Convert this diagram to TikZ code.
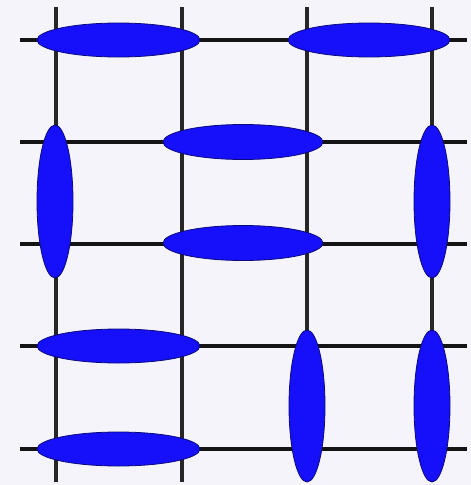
\documentclass[tikz,border=0pt]{standalone}
\definecolor{bgcol}{RGB}{246,244,251}
\definecolor{blobfill}{RGB}{22,16,250}
\definecolor{blobedge}{RGB}{10,10,120}
\begin{document}
\begin{tikzpicture}[x=1pt,y=-1pt,
  hline/.style={line width=3.8pt,color=black!92},
  vline/.style={line width=3.4pt,color=black!85},
  blob/.style={fill=blobfill,draw=blobedge,line width=0.8pt}]
\fill[bgcol] (0,0) rectangle (471,485);
\useasboundingbox (0,0) rectangle (471,485);
% vertical lines
\foreach \x in {56,182,307,432} \draw[vline] (\x,7) -- (\x,482);
% horizontal lines
\foreach \y in {40,142,244,346,449} \draw[hline] (20,\y) -- (467,\y);
% horizontal blobs
\path[blob] (118.5,40) ellipse [x radius=81.5, y radius=17];
\path[blob] (369,40) ellipse [x radius=81, y radius=17];
\path[blob] (243,142) ellipse [x radius=80, y radius=17.5];
\path[blob] (243,243) ellipse [x radius=80, y radius=17.5];
\path[blob] (118.5,346) ellipse [x radius=81.5, y radius=17];
\path[blob] (118.5,449) ellipse [x radius=81.5, y radius=17];
% vertical blobs
\path[blob] (55,201.5) ellipse [x radius=18, y radius=76.5];
\path[blob] (432,201.5) ellipse [x radius=18, y radius=76.5];
\path[blob] (307,406) ellipse [x radius=18, y radius=76];
\path[blob] (432,406) ellipse [x radius=18, y radius=76];
\end{tikzpicture}
\end{document}
